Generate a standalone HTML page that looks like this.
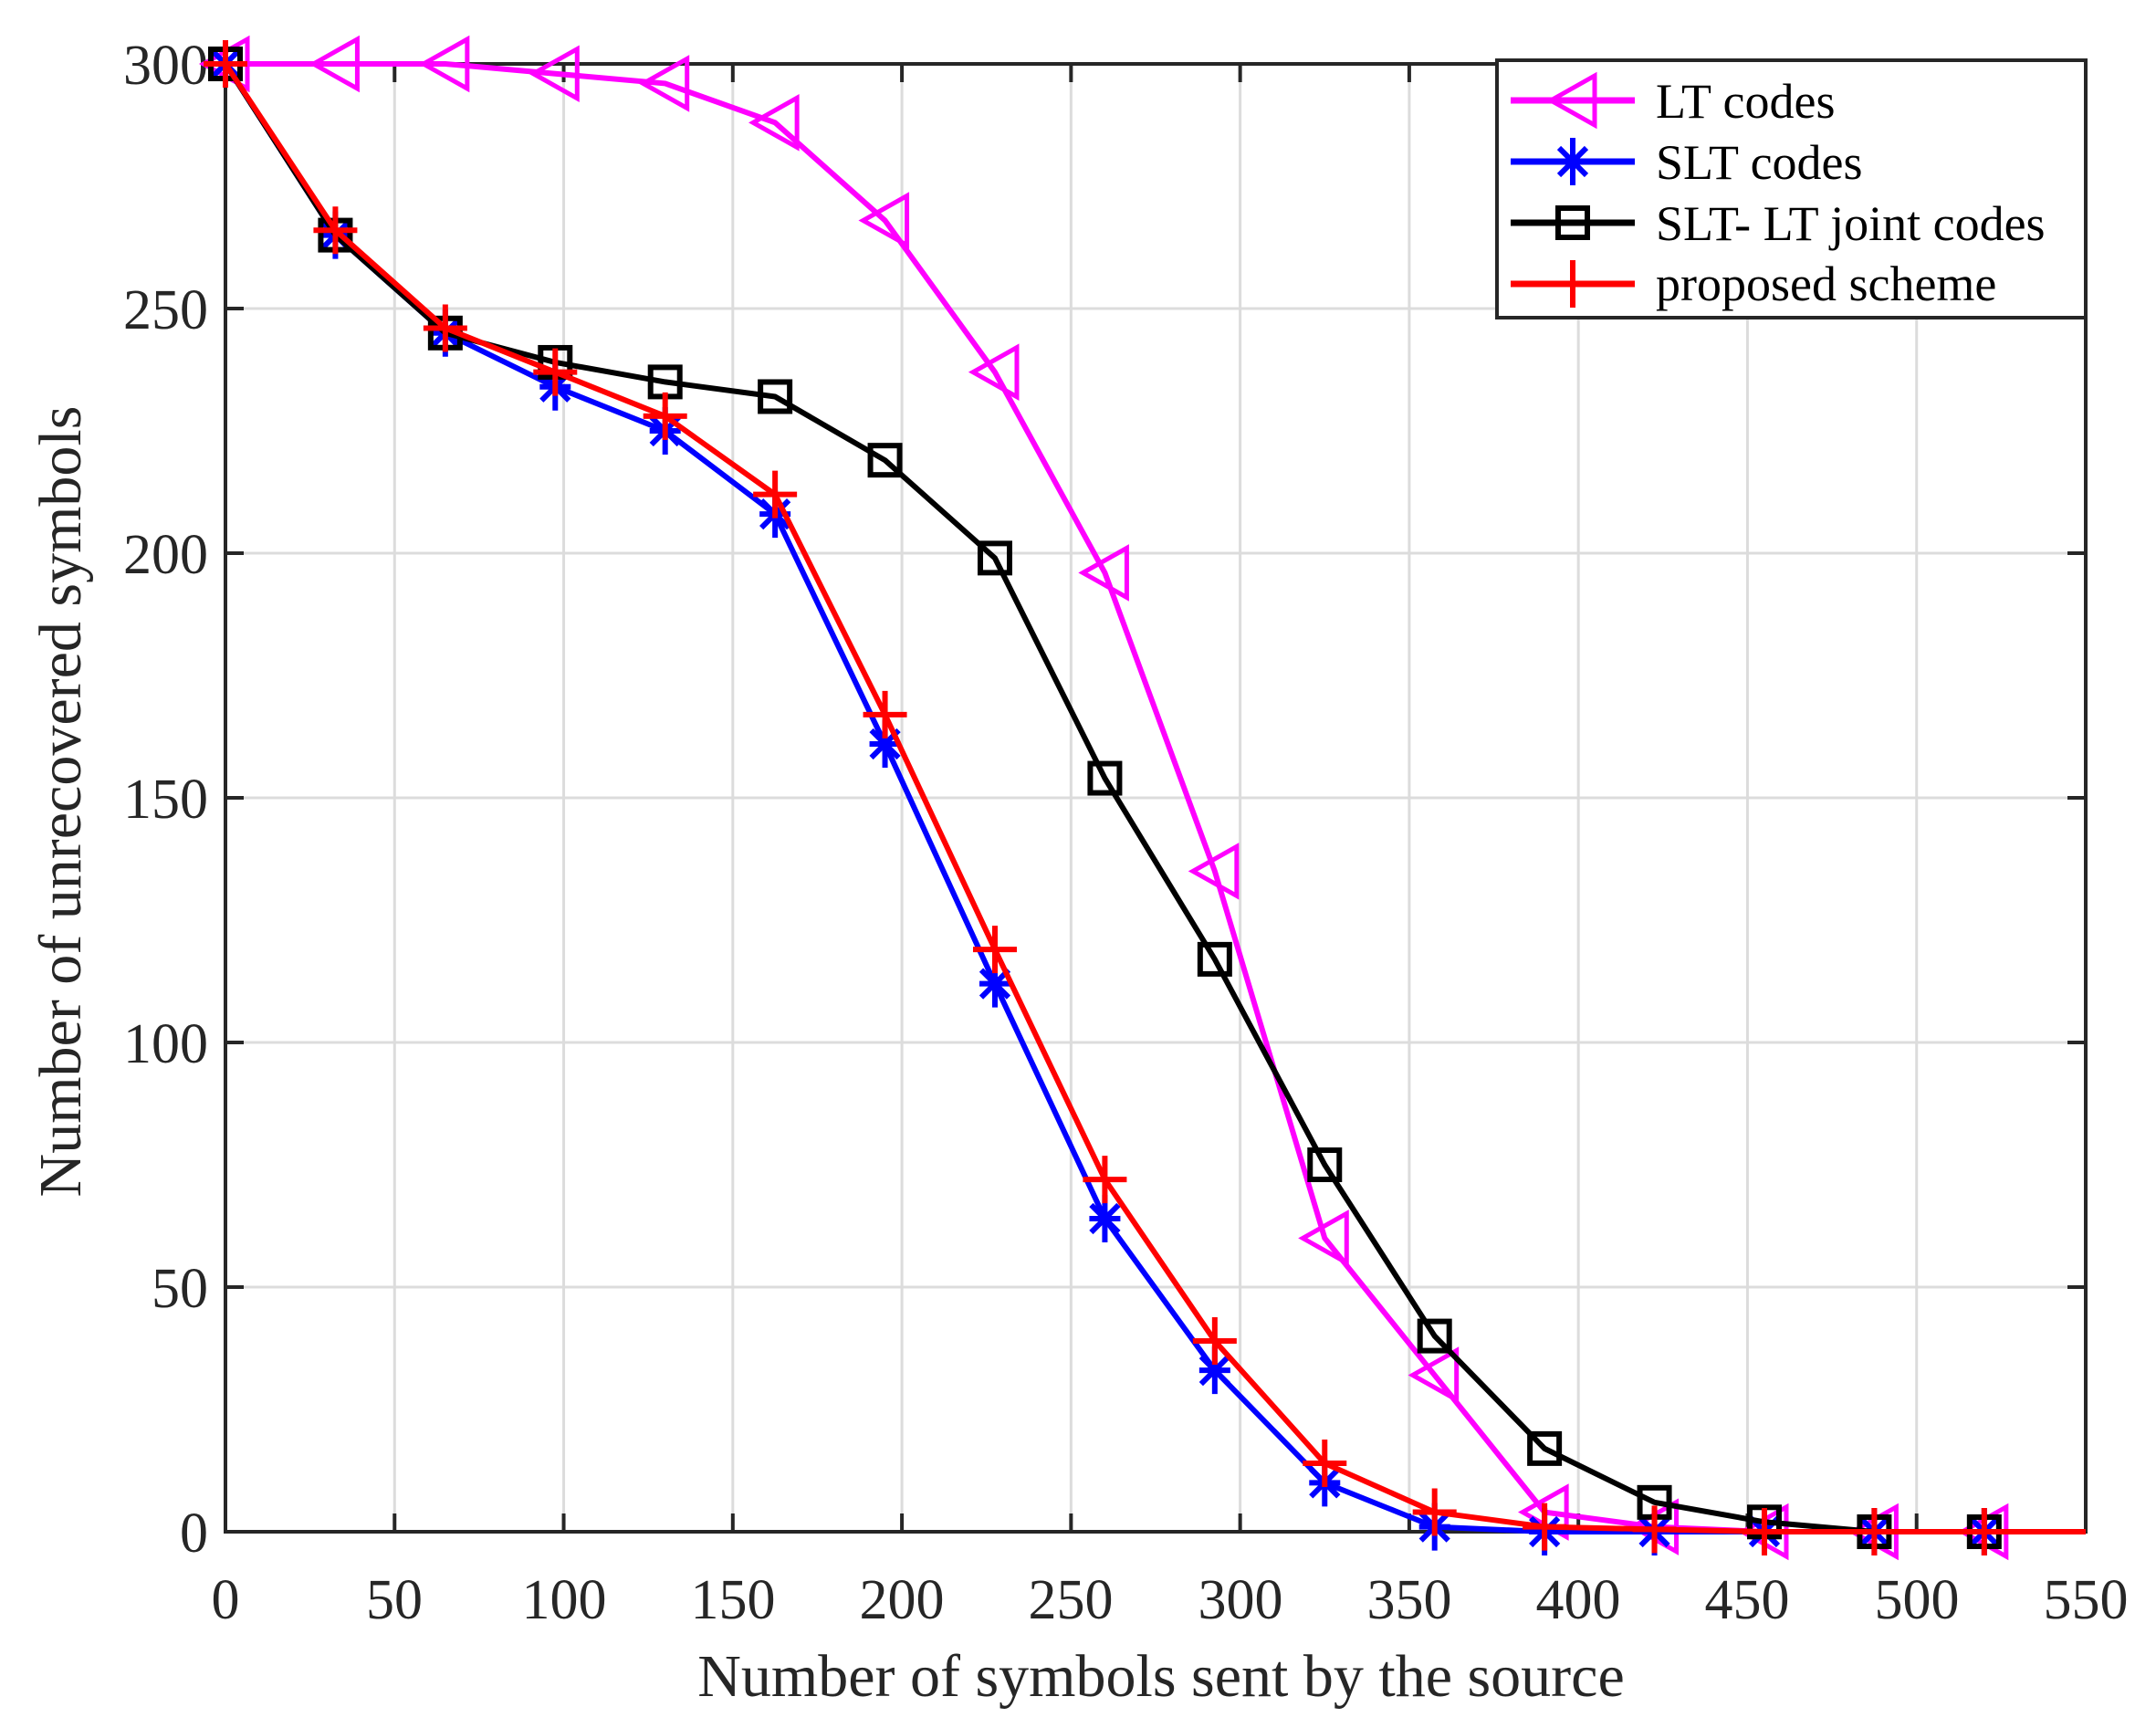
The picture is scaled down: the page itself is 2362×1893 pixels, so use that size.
<!DOCTYPE html>
<html><head><meta charset="utf-8"><style>
html,body{margin:0;padding:0;background:#fff;}
svg{display:block;font-family:"Liberation Serif",serif;}
</style></head><body>
<svg id="s" width="2362" height="1893" viewBox="0 0 2362 1893" xmlns="http://www.w3.org/2000/svg">
<rect width="2362" height="1893" fill="#fff"/>
<g id="grid" stroke="#dcdcdc" stroke-width="3"></g>
<g id="ticks" stroke="#262626" stroke-width="4"></g>
<rect x="247" y="70" width="2038" height="1608" fill="none" stroke="#262626" stroke-width="4"/>
<g fill="#262626" font-size="62" text-anchor="middle">
<text x="247" y="1773">0</text><text x="432" y="1773">50</text><text x="618" y="1773">100</text><text x="803" y="1773">150</text><text x="988" y="1773">200</text><text x="1173" y="1773">250</text><text x="1359" y="1773">300</text><text x="1544" y="1773">350</text><text x="1729" y="1773">400</text><text x="1914" y="1773">450</text><text x="2100" y="1773">500</text><text x="2285" y="1773">550</text>
</g>
<g fill="#262626" font-size="62" text-anchor="end">
<text x="228" y="1700">0</text><text x="228" y="1432">50</text><text x="228" y="1164">100</text><text x="228" y="896">150</text><text x="228" y="628">200</text><text x="228" y="360">250</text><text x="228" y="92">300</text>
</g>
<text x="1272" y="1858" font-size="66" fill="#262626" text-anchor="middle">Number of symbols sent by the source</text>
<text transform="translate(88,878) rotate(-90)" font-size="66" fill="#262626" text-anchor="middle">Number of unrecovered symbols</text>
<g id="series"></g>
<rect x="1640" y="66" width="645" height="282" fill="#fff" stroke="#262626" stroke-width="4"/>
<g id="leg"></g>
<g font-size="54" fill="#000">
<text x="1814" y="129">LT codes</text>
<text x="1814" y="196">SLT codes</text>
<text x="1814" y="263">SLT- LT joint codes</text>
<text x="1814" y="329">proposed scheme</text>
</g>
</svg>
<script>
var NS="http://www.w3.org/2000/svg";
function X(v){return 247+v*2038/550;}
function Y(v){return 1678-v*1608/300;}
function el(p,t,a){var e=document.createElementNS(NS,t);for(var k in a)e.setAttribute(k,a[k]);p.appendChild(e);return e;}
var g=document.getElementById('grid'),tk=document.getElementById('ticks');
for(var i=1;i<11;i++){el(g,'line',{x1:X(i*50),x2:X(i*50),y1:70,y2:1678});}
for(var i=1;i<6;i++){el(g,'line',{x1:247,x2:2285,y1:Y(i*50),y2:Y(i*50)});}
for(var i=0;i<=11;i++){var x=X(i*50);el(tk,'line',{x1:x,x2:x,y1:1678,y2:1658});el(tk,'line',{x1:x,x2:x,y1:70,y2:90});}
for(var i=0;i<=6;i++){var y=Y(i*50);el(tk,'line',{x1:247,x2:267,y1:y,y2:y});el(tk,'line',{x1:2285,x2:2265,y1:y,y2:y});}
var xs=[];for(var i=0;i<17;i++)xs.push(i*32.5);
var data=[
 ['#ff00ff','tri',[300,300,300,298,296,288,268,237,196,135,60,32,4,1,0,0,0]],
 ['#0000ff','star',[300,265,245,234,225,208,161,112,64,33,10,1,0,0,0,0,0]],
 ['#000000','sq',[300,265,245,239,235,232,219,199,154,117,75,40,17,6,2,0,0]],
 ['#ff0000','plus',[300,266,246,237,228,212,167,119,72,39,14,4,1,0.5,0,0,0]]
];
var S=document.getElementById('series'),L=document.getElementById('leg');
function marker(p,type,c,x,y){
 if(type=='tri'){el(p,'polygon',{points:(x-24)+','+y+' '+(x+24)+','+(y-27)+' '+(x+24)+','+(y+27),fill:'none',stroke:c,'stroke-width':5});}
 else if(type=='sq'){el(p,'rect',{x:x-16,y:y-16,width:32,height:32,fill:'none',stroke:c,'stroke-width':6});}
 else if(type=='plus'){el(p,'path',{d:'M'+(x-24)+' '+y+'h48M'+x+' '+(y-26)+'v52',stroke:c,'stroke-width':6});}
 else {el(p,'path',{d:'M'+(x-17)+' '+y+'h34M'+x+' '+(y-26)+'v52M'+(x-15)+' '+(y-15)+'l30 30M'+(x-15)+' '+(y+15)+'l30 -30',stroke:c,'stroke-width':6});}
}
data.forEach(function(d,k){
 var pts=d[2].map(function(v,i){return X(xs[i])+','+Y(v);});
 if(k==3)pts.push(X(550)+','+Y(0));
 el(S,'polyline',{points:pts.join(' '),fill:'none',stroke:d[0],'stroke-width':6,'stroke-linejoin':'round'});
 d[2].forEach(function(v,i){marker(S,d[1],d[0],X(xs[i]),Y(v));});
 var ly=110+k*67;
 el(L,'line',{x1:1655,x2:1791,y1:ly,y2:ly,stroke:d[0],'stroke-width':7});
 marker(L,d[1],d[0],1723,ly);
});
</script>
</body></html>
